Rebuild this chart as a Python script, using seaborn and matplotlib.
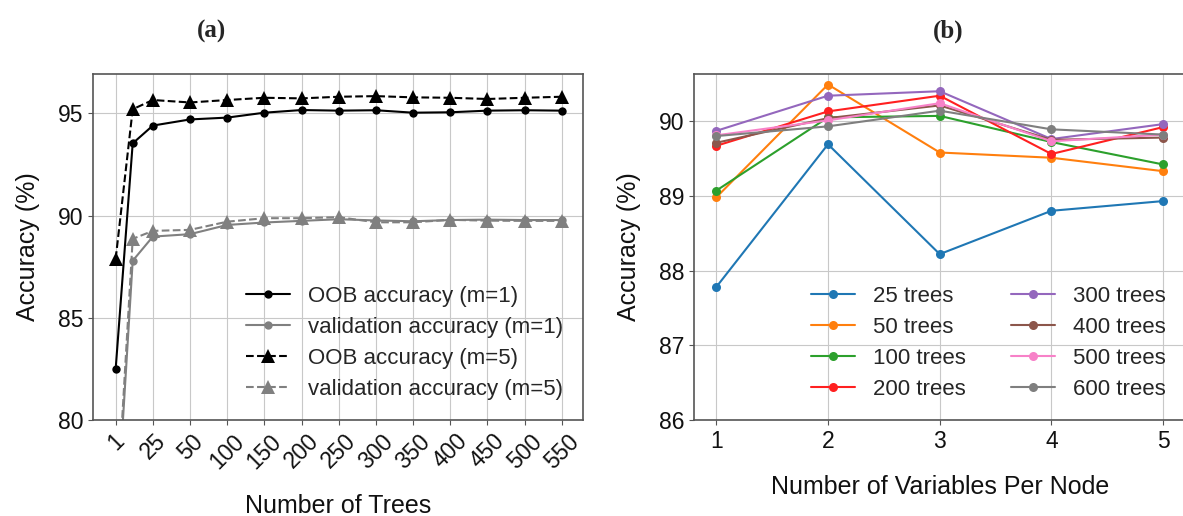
import numpy as np
import pandas as pd
import matplotlib
matplotlib.use('Agg')
import matplotlib.pyplot as plt
import seaborn as sns

# ---- data (a) ----
trees = [1, 12, 25, 50, 100, 150, 200, 250, 300, 350, 400, 450, 500, 550]
tree_ticks = [1, 25, 50, 100, 150, 200, 250, 300, 350, 400, 450, 500, 550]
oob_m1 = [82.5, 93.53, 94.4, 94.7, 94.79, 95.03, 95.16, 95.13, 95.15, 95.03, 95.05, 95.13, 95.15, 95.13]
val_m1 = [74.2, 87.79, 88.97, 89.09, 89.54, 89.66, 89.74, 89.82, 89.76, 89.72, 89.78, 89.8, 89.78, 89.78]
oob_m5 = [87.88, 95.2, 95.65, 95.53, 95.65, 95.76, 95.73, 95.81, 95.84, 95.78, 95.76, 95.7, 95.76, 95.81]
val_m5 = [74.6, 88.86, 89.25, 89.3, 89.7, 89.87, 89.87, 89.92, 89.67, 89.67, 89.79, 89.75, 89.74, 89.74]

# ---- data (b) ----
n_vars = [1, 2, 3, 4, 5]
acc_25 = [87.78, 89.69, 88.22, 88.8, 88.93]
acc_50 = [88.98, 90.49, 89.58, 89.51, 89.33]
acc_100 = [89.07, 90.05, 90.07, 89.72, 89.42]
acc_200 = [89.67, 90.13, 90.34, 89.56, 89.92]
acc_300 = [89.87, 90.34, 90.4, 89.76, 89.96]
acc_400 = [89.71, 90.04, 90.21, 89.75, 89.78]
acc_500 = [89.81, 90.01, 90.24, 89.73, 89.82]
acc_600 = [89.8, 89.93, 90.14, 89.89, 89.82]
b_labels = ['25 trees', '50 trees', '100 trees', '200 trees',
            '300 trees', '400 trees', '500 trees', '600 trees']
b_colors = ['#1f77b4', '#ff7f0e', '#2ca02c', '#ff2020',
            '#9467bd', '#8c564b', '#f781c8', '#7f7f7f']

sns.set_style('whitegrid', {'axes.edgecolor': '#555555', 'grid.color': '#c8c8c8',
                            'xtick.bottom': True, 'ytick.left': True})
plt.rcParams['font.family'] = ['Liberation Sans', 'DejaVu Sans']
plt.rcParams['xtick.color'] = '#555555'
plt.rcParams['ytick.color'] = '#555555'
plt.rcParams['xtick.labelcolor'] = '#111111'
plt.rcParams['ytick.labelcolor'] = '#111111'
plt.rcParams['axes.labelcolor'] = '#111111'


# uneven tree axis: 1..25, 25..50, then steps of 50 each take one slot
def fwd(v):
    v = np.asarray(v, dtype=float)
    return np.where(v < 25, (v - 1) / 24, np.where(v < 50, 1 + (v - 25) / 25, 2 + (v - 50) / 50))


def inv(p):
    p = np.asarray(p, dtype=float)
    return np.where(p < 1, 1 + 24 * p, np.where(p < 2, 25 + 25 * (p - 1), 50 + 50 * (p - 2)))


fig = plt.figure(figsize=(11.83, 5.16), dpi=100)
ax1 = fig.add_axes([0.0786, 0.186, 0.4142, 0.6705])
ax2 = fig.add_axes([0.5866, 0.186, 0.4155, 0.6705])

# ---- panel (a) ----
sns.lineplot(x=trees, y=oob_m1, ax=ax1, color='black', marker='o', markersize=6,
             markeredgewidth=0, lw=1.5, label='OOB accuracy (m=1)')
sns.lineplot(x=trees, y=val_m1, ax=ax1, color='#808080', marker='o', markersize=6,
             markeredgewidth=0, lw=1.5, label='validation accuracy (m=1)')
sns.lineplot(x=trees, y=oob_m5, ax=ax1, color='black', marker='^', markersize=10.5,
             markeredgewidth=0, lw=1.5, linestyle='--', label='OOB accuracy (m=5)')
sns.lineplot(x=trees, y=val_m5, ax=ax1, color='#808080', marker='^', markersize=10.5,
             markeredgewidth=0, lw=1.5, linestyle='--', label='validation accuracy (m=5)')
ax1.set_xscale('function', functions=(fwd, inv))
ax1.set_xlim(float(inv(-0.61)), float(inv(12.57)))
ax1.set_ylim(80, 96.92)
ax1.set_xticks(tree_ticks)
ax1.set_xticklabels([str(t) for t in tree_ticks], rotation=45, fontsize=16.5)
ax1.set_yticks([80, 85, 90, 95])
ax1.tick_params(axis='y', labelsize=16.5)
ax1.minorticks_off()
ax1.set_xlabel('Number of Trees', fontsize=18, labelpad=15)
ax1.set_ylabel('Accuracy (%)', fontsize=18, labelpad=13)
ax1.legend(loc='lower right', frameon=False, fontsize=16, handlelength=2.0,
           labelspacing=0.45, borderaxespad=0.5)

# ---- panel (b) ----
b_series = [acc_25, acc_50, acc_100, acc_200, acc_300, acc_400, acc_500, acc_600]
for vals, lab, col in zip(b_series, b_labels, b_colors):
    sns.lineplot(x=n_vars, y=vals, ax=ax2, color=col, marker='o', markersize=6.5,
                 markeredgewidth=0, lw=1.5, label=lab)
ax2.set_xlim(0.8, 5.2)
ax2.set_ylim(86, 90.63)
ax2.set_xticks(n_vars)
ax2.set_yticks([86, 87, 88, 89, 90])
ax2.tick_params(labelsize=16.5)
ax2.set_xlabel('Number of Variables Per Node', fontsize=18, labelpad=16)
ax2.set_ylabel('Accuracy (%)', fontsize=18, labelpad=13)
ax2.legend(loc='lower right', ncol=2, frameon=False, fontsize=16, handlelength=2.0,
           labelspacing=0.45, columnspacing=2.0, borderaxespad=0.5)

for ax in (ax1, ax2):
    for s in ax.spines.values():
        s.set_linewidth(1.2)

fig.text(212 / 1183, 1 - 31 / 516, '(a)', fontsize=18, fontweight='bold',
         family=['Liberation Serif'], ha='center', va='center')
fig.text(948 / 1183, 1 - 31 / 516, '(b)', fontsize=18, fontweight='bold',
         family=['Liberation Serif'], ha='center', va='center')

fig.savefig('out.png', dpi=100, facecolor='white')
